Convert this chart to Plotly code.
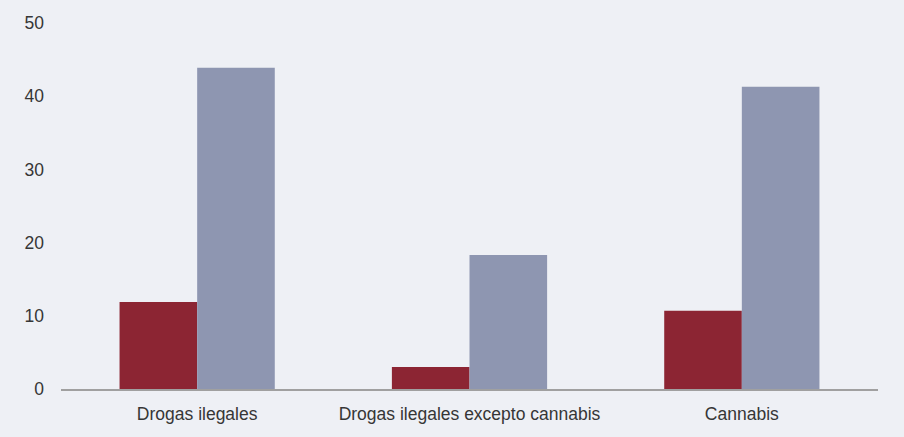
import plotly.graph_objects as go

categories = ["Drogas ilegales", "Drogas ilegales excepto cannabis", "Cannabis"]
serie_a = [11.9, 3.0, 10.7]
serie_b = [43.9, 18.3, 41.3]
y_ticks = [0, 10, 20, 30, 40, 50]

bg = "#eef0f5"
fig = go.Figure()
fig.add_trace(go.Bar(x=categories, y=serie_a, marker=dict(color="#8c2533", line=dict(width=0)), showlegend=False))
fig.add_trace(go.Bar(x=categories, y=serie_b, marker=dict(color="#8e96b1", line=dict(width=0)), showlegend=False))

fig.update_layout(
    width=904, height=437,
    margin=dict(l=61, r=26, t=23, b=48, pad=0),
    paper_bgcolor=bg, plot_bgcolor=bg,
    barmode="group", bargap=0.43, bargroupgap=0,
    font=dict(family="Liberation Sans, Arial, sans-serif", size=17.5, color="#363636"),
)
fig.update_xaxes(showline=True, linecolor="#a0a0a0", linewidth=2, showgrid=False,
                 ticks="", ticklabelstandoff=8, zeroline=False)
fig.update_yaxes(range=[0, 50], tickvals=y_ticks, showgrid=False, zeroline=False,
                 showline=False, ticks="", ticklabelstandoff=16)
fig.write_html("out.html", config={"displayModeBar": False},
               post_script="document.body.style.margin='0';document.body.style.overflow='hidden';")
